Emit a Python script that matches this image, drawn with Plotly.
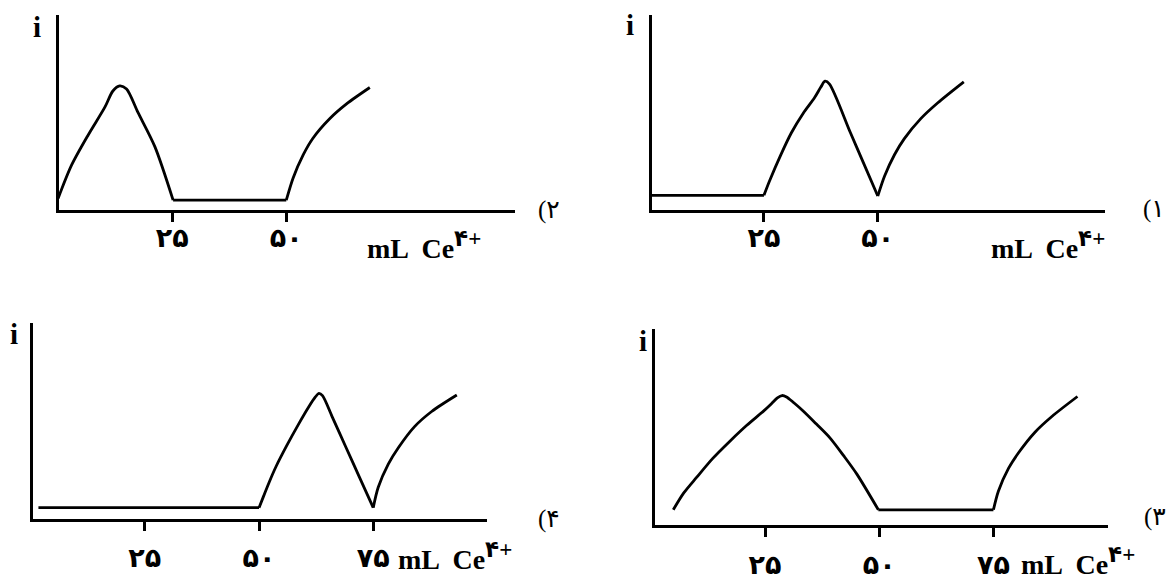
import plotly.graph_objects as go

W, H = 1166, 580

# ---------------- data (mL Ce4+ , i in arbitrary units) ----------------
p1_x = [0.3, 25, 26.2, 28.7, 31, 33.6, 36.1, 37.5, 38.4, 39.4, 44, 47, 50,
        51.5, 53.7, 55.8, 59.5, 63.2, 68.9]
p1_i = [0.76, 0.76, 1.48, 2.83, 3.95, 4.95, 5.75, 6.3, 6.6, 6.45, 3.96, 2.34, 0.72,
        1.75, 2.85, 3.65, 4.7, 5.5, 6.57]
p1_breaks = [25, 50]

p2_x = [0, 2.95, 6.6, 10.25, 12.0, 13.5, 15.0, 17.5, 21.2, 25.2, 50,
        51.5, 53.7, 55.8, 59.5, 63.2, 68.3]
p2_i = [0.6, 2.3, 3.85, 5.27, 6.1, 6.36, 6.2, 5.0, 3.25, 0.51, 0.51,
        1.65, 2.83, 3.67, 4.68, 5.44, 6.28]
p2_breaks = [25.2, 50]

p3_x = [4.9, 7.2, 10, 13.5, 17.3, 21, 24.6, 26.4, 27.7, 28.7, 29.7, 31.3, 33.4, 36.3, 39.2,
        42.2, 45.1, 49.8, 75, 76.1, 78.3, 80.5, 84.1, 87.8, 93.4]
p3_i = [0.79, 1.65, 2.44, 3.4, 4.29, 5.1, 5.81, 6.2, 6.5, 6.62, 6.55, 6.25, 5.82, 5.15, 4.46,
        3.55, 2.61, 0.79, 0.79, 1.75, 2.9, 3.7, 4.75, 5.55, 6.57]
p3_breaks = [49.8, 75]

p4_x = [1.7, 50, 51, 52.2, 53.7, 56, 58.6, 61, 62.3, 63.1, 63.9, 66, 69, 72, 75,
        76.1, 78.3, 80.5, 84.1, 87.8, 93.3]
p4_i = [0.56, 0.56, 1.15, 1.85, 2.65, 3.7, 4.8, 5.75, 6.2, 6.4, 6.28, 5.21, 3.66, 2.11, 0.56,
        1.6, 2.78, 3.62, 4.71, 5.47, 6.31]
p4_breaks = [50, 75]

ticks_top = [25, 50]
ticks_bottom = [25, 50, 75]
tick_text_top = ["۲۵", "۵۰"]
tick_text_bottom = ["۲۵", "۵۰", "۷۵"]
panel_labels = ["(۱", "(۲", "(۳", "(۴"]
x_title = "<b>mL  Ce<sup><span style=\"font-size:23px\">۴+</span></sup></b>"
y_title = "<b>i</b>"

# ---------------- layout geometry (pixels) ----------------
panels = {
    "1": dict(x=p1_x, y=p1_i, br=p1_breaks, xl=651.5, xr=1105.4, yb=212.7, yt=15, xr0=0.3,
              tv=ticks_top, tt=tick_text_top, lab=panel_labels[0], so=-7,
              lab_xy=(1141, 212), title_xy=(989, 248), i_xy=(630, 25)),
    "2": dict(x=p2_x, y=p2_i, br=p2_breaks, xl=59, xr=514.5, yb=212.7, yt=15, xr0=0.2,
              tv=ticks_top, tt=tick_text_top, lab=panel_labels[1], so=-7,
              lab_xy=(536, 213), title_xy=(365, 248), i_xy=(37, 27)),
    "3": dict(x=p3_x, y=p3_i, br=p3_breaks, xl=655, xr=1107.6, yb=531.7, yt=333.3, xr0=0.9,
              tv=ticks_bottom, tt=tick_text_bottom, lab=panel_labels[2], so=4,
              lab_xy=(1142, 523), title_xy=(1019, 568), i_xy=(643, 345)),
    "4": dict(x=p4_x, y=p4_i, br=p4_breaks, xl=32.5, xr=487.4, yb=525, yt=326.7, xr0=0.4,
              tv=ticks_bottom, tt=tick_text_bottom, lab=panel_labels[3], so=4,
              lab_xy=(536, 525), title_xy=(396, 563), i_xy=(14, 338)),
}

SERIF = "Liberation Serif, Times New Roman, DejaVu Sans, serif"


def split_segments(xs, ys, breaks):
    """Split a curve at its equivalence points so corners stay sharp."""
    segs, cur_x, cur_y = [], [], []
    for xv, yv in zip(xs, ys):
        cur_x.append(xv)
        cur_y.append(yv)
        if xv in breaks and len(cur_x) > 1:
            segs.append((cur_x, cur_y))
            cur_x, cur_y = [xv], [yv]
    if len(cur_x) > 1:
        segs.append((cur_x, cur_y))
    return segs


fig = go.Figure()
layout = dict(width=W, height=H, margin=dict(l=0, r=0, t=0, b=0),
              paper_bgcolor="white", plot_bgcolor="white", showlegend=False,
              annotations=[])

for k, (name, p) in enumerate(panels.items(), start=1):
    xa = "xaxis" if k == 1 else f"xaxis{k}"
    ya = "yaxis" if k == 1 else f"yaxis{k}"
    xref = "x" if k == 1 else f"x{k}"
    yref = "y" if k == 1 else f"y{k}"
    for sx, sy in split_segments(p["x"], p["y"], p["br"]):
        fig.add_trace(go.Scatter(x=sx, y=sy, mode="lines",
                                 line=dict(color="black", width=2.8, shape="spline", smoothing=0.8),
                                 xaxis=xref, yaxis=yref, hoverinfo="skip"))
    layout[xa] = dict(domain=[p["xl"] / W, p["xr"] / W], range=[p["xr0"], 100],
                      anchor=yref, showline=True, linecolor="black", linewidth=2.8,
                      showgrid=False, zeroline=False, ticks="outside", ticklen=9,
                      tickwidth=2.5, tickcolor="black", tickvals=p["tv"], ticktext=p["tt"],
                      tickfont=dict(family=SERIF, size=27, color="black", weight="bold"),
                      ticklabelstandoff=p["so"], fixedrange=True)
    layout[ya] = dict(domain=[1 - p["yb"] / H, 1 - p["yt"] / H], range=[0, 10],
                      anchor=xref, showline=True, linecolor="black", linewidth=2.8,
                      showgrid=False, zeroline=False, showticklabels=False, ticks="",
                      fixedrange=True)
    tx, ty = p["title_xy"]
    layout["annotations"].append(dict(text=x_title, x=tx / W, y=1 - ty / H, xref="paper", yref="paper",
                                      xanchor="left", yanchor="middle", showarrow=False,
                                      font=dict(family=SERIF, size=28, color="black")))
    ix, iy = p["i_xy"]
    layout["annotations"].append(dict(text=y_title, x=ix / W, y=1 - iy / H, xref="paper", yref="paper",
                                      xanchor="center", yanchor="middle", showarrow=False,
                                      font=dict(family=SERIF, size=29, color="black")))
    lx, ly = p["lab_xy"]
    layout["annotations"].append(dict(text=p["lab"], x=lx / W, y=1 - ly / H, xref="paper", yref="paper",
                                      xanchor="left", yanchor="middle", showarrow=False,
                                      font=dict(family=SERIF, size=25, color="black")))

fig.update_layout(**layout)
fig.write_html("out.html", config={"displayModeBar": False},
               post_script="document.body.style.margin='0';document.body.style.overflow='hidden';")
